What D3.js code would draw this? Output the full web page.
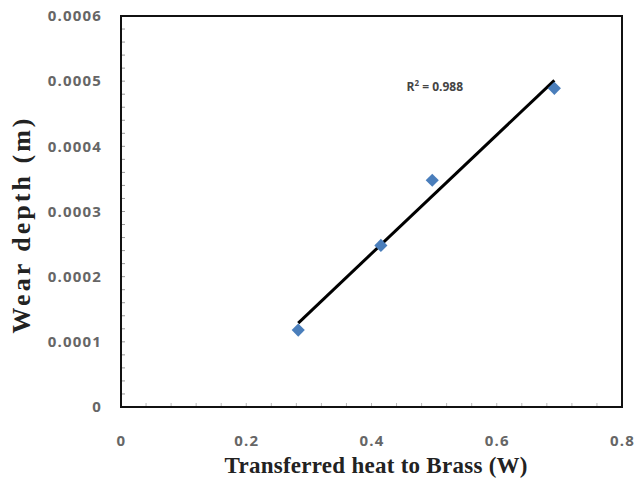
<html>
<head>
<script src="https://cdn.jsdelivr.net/npm/d3@7"></script>
<style>
  body { margin:0; background:#fff; }
</style>
</head>
<body>
<script>
// data
let heat = [0.283, 0.415, 0.497, 0.692];
let wear = [0.000118, 0.000248, 0.000348, 0.000489];
let xTicks = [0, 0.2, 0.4, 0.6, 0.8];
let yTicks = [0, 0.0001, 0.0002, 0.0003, 0.0004, 0.0005, 0.0006];
let rSquared = "0.988";

let screen = {width:635, height:481};
let plot = {left:121, top:16, right:622, bottom:407};

let svg = d3.select("body").append("svg")
    .attr("width", screen.width)
    .attr("height", screen.height);

let xScale = d3.scaleLinear().domain([0,0.8]).range([plot.left, plot.right]);
let yScale = d3.scaleLinear().domain([0,0.0006]).range([plot.bottom, plot.top]);

// minor ticks
let yMinor = d3.range(0, 0.00060001, 0.00002);
svg.append("g").selectAll("line").data(yMinor).enter().append("line")
    .attr("x1", plot.left).attr("x2", plot.left+4)
    .attr("y1", d => yScale(d)).attr("y2", d => yScale(d))
    .attr("stroke", "#999").attr("stroke-width", 1);
let xMinor = d3.range(0, 0.8001, 0.04);
svg.append("g").selectAll("line").data(xMinor).enter().append("line")
    .attr("x1", d => xScale(d)).attr("x2", d => xScale(d))
    .attr("y1", plot.bottom).attr("y2", plot.bottom-4)
    .attr("stroke", "#bbb").attr("stroke-width", 1);

// frame
svg.append("rect")
    .attr("x", plot.left).attr("y", plot.top)
    .attr("width", plot.right-plot.left).attr("height", plot.bottom-plot.top)
    .attr("fill", "none").attr("stroke", "#111").attr("stroke-width", 2);

// axes
let yAxis = svg.append("g")
    .attr("transform", "translate(" + plot.left + ",0)")
    .call(d3.axisLeft(yScale).tickValues(yTicks).tickSize(0).tickPadding(19)
        .tickFormat(d => d === 0 ? "0" : d.toFixed(4)));
let xAxis = svg.append("g")
    .attr("transform", "translate(0," + plot.bottom + ")")
    .call(d3.axisBottom(xScale).tickValues(xTicks).tickSize(0).tickPadding(28)
        .tickFormat(d => d === 0 ? "0" : d.toFixed(1)));
[xAxis, yAxis].forEach(function(a){
    a.select(".domain").remove();
    a.selectAll("text")
        .style("font-family", "'Open Sans', 'DejaVu Sans', sans-serif")
        .style("font-size", "15px")
        .style("font-weight", "bold")
        .style("letter-spacing", "1.2px")
        .style("fill", "#666");
});

// trend line (least squares through the points)
let mx = d3.mean(heat), my = d3.mean(wear);
let sxy = d3.sum(heat, (d,i) => (d-mx)*(wear[i]-my));
let sxx = d3.sum(heat, d => (d-mx)*(d-mx));
let slope = sxy/sxx, icpt = my - slope*mx;
let x0 = d3.min(heat), x1 = d3.max(heat);
svg.append("line")
    .attr("x1", xScale(x0)).attr("y1", yScale(icpt + slope*x0))
    .attr("x2", xScale(x1)).attr("y2", yScale(icpt + slope*x1))
    .attr("stroke", "#000").attr("stroke-width", 3);

// points
svg.append("g").selectAll("path").data(heat).enter().append("path")
    .attr("d", d3.symbol().type(d3.symbolDiamond2).size(110))
    .attr("transform", (d,i) => "translate(" + xScale(d) + "," + yScale(wear[i]) + ")")
    .attr("fill", "#4a7ebb");

// R squared label
let rt = svg.append("text")
    .attr("x", xScale(0.456)).attr("y", yScale(0.0005)+10)
    .style("font-family", "'Open Sans', 'DejaVu Sans', sans-serif")
    .style("font-size", "12px").style("font-weight", "bold")
    .style("fill", "#444");
rt.append("tspan").text("R");
rt.append("tspan").attr("dy", -5).style("font-size", "8px").text("2");
rt.append("tspan").attr("dy", 5).text(" = " + rSquared);

// titles
svg.append("text")
    .attr("x", 376).attr("y", 473)
    .attr("text-anchor", "middle")
    .attr("textLength", 303).attr("lengthAdjust", "spacing")
    .style("font-family", "'Liberation Serif', 'Times New Roman', serif")
    .style("font-size", "23px").style("font-weight", "bold")
    .style("fill", "#222")
    .text("Transferred heat to Brass (W)");
svg.append("text")
    .attr("transform", "translate(30,226) rotate(-90)")
    .attr("text-anchor", "middle")
    .attr("textLength", 215).attr("lengthAdjust", "spacing")
    .style("font-family", "'Liberation Serif', 'Times New Roman', serif")
    .style("font-size", "26px").style("font-weight", "bold")
    .style("fill", "#222")
    .text("Wear depth (m)");
</script>
</body>
</html>
